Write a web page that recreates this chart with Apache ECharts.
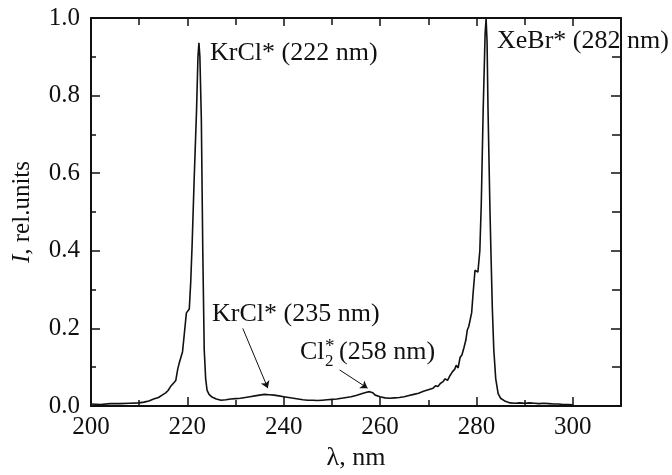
<!DOCTYPE html>
<html>
<head>
<meta charset="utf-8">
<script src="https://cdn.jsdelivr.net/npm/echarts@6/dist/echarts.min.js"></script>
<style>
  html, body { margin: 0; padding: 0; background: #fff; }
  #chart { width: 672px; height: 475px; }
</style>
</head>
<body>
<div id="chart"></div>
<script>
// spectrum
const wavelength = [
  200, 202, 204, 206, 208, 210, 211, 212, 213, 214, 215, 215.5, 216, 216.5, 216.8, 217.2, 217.6,
  218, 218.3, 218.6, 219, 219.4, 219.8, 220.1, 220.4, 220.7, 221, 221.4, 221.9, 222.2, 222.4,
  222.6, 222.9, 223.2, 223.5, 223.8, 224.1, 224.5, 225, 226, 227, 228, 229, 230, 231, 232, 233,
  234, 235, 236, 237, 238, 239, 240, 241, 242, 243, 244, 245, 246, 247, 248, 249, 250, 251, 252,
  253, 254, 255, 256, 257, 257.8, 258.5, 259, 260, 261, 262, 263, 264, 265, 266, 267, 268, 269,
  270, 271, 271.5, 272, 272.5, 273, 273.5, 274, 274.5, 275, 275.5, 275.8, 276.2, 276.6, 277,
  277.4, 277.8, 278.1, 278.4, 278.7, 279, 279.3, 279.7, 280, 280.3, 280.7, 281, 281.4, 281.8,
  282, 282.2, 282.4, 282.8, 283, 283.3, 283.6, 284, 284.5, 285, 286, 287, 288, 289, 290, 291,
  292, 293, 294, 295, 296, 297, 298, 299, 300
];
const intensity = [
  0.005, 0.004, 0.006, 0.006, 0.007, 0.008, 0.010, 0.013, 0.018, 0.022, 0.030, 0.034, 0.040, 0.050, 0.045, 0.060, 0.066,
  0.095, 0.110, 0.105, 0.140, 0.190, 0.240, 0.245, 0.250, 0.320, 0.420, 0.580, 0.760, 0.900, 0.936,
  0.900, 0.740, 0.400, 0.145, 0.070, 0.040, 0.030, 0.024, 0.018, 0.015, 0.016, 0.018, 0.019, 0.020, 0.022, 0.024,
  0.026, 0.028, 0.030, 0.029, 0.028, 0.026, 0.024, 0.022, 0.020, 0.018, 0.016, 0.015, 0.015, 0.014, 0.015, 0.016, 0.017, 0.018, 0.020,
  0.022, 0.024, 0.027, 0.031, 0.035, 0.037, 0.034, 0.028, 0.024, 0.021, 0.020, 0.021, 0.022, 0.024, 0.027, 0.030, 0.033, 0.038,
  0.042, 0.046, 0.052, 0.050, 0.058, 0.062, 0.070, 0.066, 0.078, 0.088, 0.095, 0.105, 0.098, 0.125, 0.132,
  0.150, 0.170, 0.196, 0.205, 0.200, 0.240, 0.290, 0.350, 0.355, 0.345, 0.400, 0.520, 0.765, 0.960,
  0.998, 0.940, 0.765, 0.507, 0.400, 0.250, 0.145, 0.070, 0.032, 0.020, 0.012, 0.008, 0.007, 0.008, 0.007, 0.008,
  0.007, 0.006, 0.007, 0.006, 0.005, 0.005, 0.004, 0.004, 0.003
];

const xMajor = [200, 220, 240, 260, 280, 300];
const xMinor = [210, 230, 250, 270, 290];
const yMajor = [0, 0.2, 0.4, 0.6, 0.8, 1.0];
const yMinor = [0.1, 0.3, 0.5, 0.7, 0.9];

// arrows: from label to band
const arrowFrom = [[231.5, 0.20], [251.6, 0.093]];
const arrowTo = [[236.7, 0.046], [257.4, 0.046]];

const FONT = '"Liberation Serif", "Times New Roman", serif';
const INK = '#111';

function axis(kind, position, ticks, len, main, labels) {
  const range = kind === 'x' ? { min: 200, max: 310 } : { min: 0, max: 1 };
  return {
    type: 'value',
    position: position,
    min: range.min,
    max: range.max,
    axisLine: { show: main, onZero: false, lineStyle: { color: INK, width: 2 } },
    axisTick: { show: true, inside: true, length: len, customValues: ticks, lineStyle: { color: INK, width: 1.5 } },
    axisLabel: {
      show: labels,
      customValues: ticks,
      margin: kind === 'x' ? 9 : 11,
      color: INK,
      fontFamily: FONT,
      fontSize: 25,
      formatter: kind === 'x' ? (v) => String(v) : (v) => v.toFixed(1)
    },
    splitLine: { show: false }
  };
}

const xAxes = [
  axis('x', 'bottom', xMajor, 9, true, true),
  axis('x', 'bottom', xMinor, 6, false, false),
  axis('x', 'top', xMajor, 8, true, false),
  axis('x', 'top', xMinor, 7, false, false)
];
xAxes[0].name = 'λ, nm';
xAxes[0].nameLocation = 'middle';
xAxes[0].nameGap = 31;
xAxes[0].nameTextStyle = { fontFamily: FONT, fontSize: 26, color: INK };

const yAxes = [
  axis('y', 'left', yMajor, 9, true, true),
  axis('y', 'left', yMinor, 5, false, false),
  axis('y', 'right', yMajor, 10, true, false),
  axis('y', 'right', yMinor, 9, false, false)
];
yAxes[0].name = '{i|I}, rel.units';
yAxes[0].nameLocation = 'middle';
yAxes[0].nameRotate = 90;
yAxes[0].nameGap = 56;
yAxes[0].nameTextStyle = {
  fontFamily: FONT, fontSize: 25, color: INK,
  rich: { i: { fontFamily: FONT, fontSize: 25, fontStyle: 'italic', color: INK } }
};

function label(x, y, text, size) {
  return {
    type: 'text', x: x, y: y, silent: true,
    style: { text: text, fill: INK, font: (size || 26) + 'px ' + FONT, verticalAlign: 'middle' }
  };
}

const chart = echarts.init(document.getElementById('chart'));
chart.setOption({
  animation: false,
  backgroundColor: '#fff',
  grid: { left: 91, right: 51, top: 18, bottom: 69, outerBoundsMode: 'none' },
  xAxis: xAxes,
  yAxis: yAxes,
  graphic: [
    label(210, 53, 'KrCl* (222 nm)'),
    label(497, 41, 'XeBr* (282 nm)'),
    label(212, 314, 'KrCl* (235 nm)'),
    label(300, 352, 'Cl'),
    label(325, 362, '2', 17),
    label(325, 347, '*', 19),
    label(339, 352, '(258 nm)')
  ],
  series: [{
    type: 'line',
    xAxisIndex: 0,
    yAxisIndex: 0,
    data: wavelength.map((w, i) => [w, intensity[i]]),
    showSymbol: false,
    symbol: 'none',
    lineStyle: { color: INK, width: 1.6 },
    markLine: {
      silent: true,
      symbol: ['none', 'arrow'],
      symbolSize: 7,
      label: { show: false },
      lineStyle: { color: INK, width: 1, type: 'solid' },
      data: arrowFrom.map((p, i) => [{ coord: p }, { coord: arrowTo[i] }])
    }
  }]
});
</script>
</body>
</html>
